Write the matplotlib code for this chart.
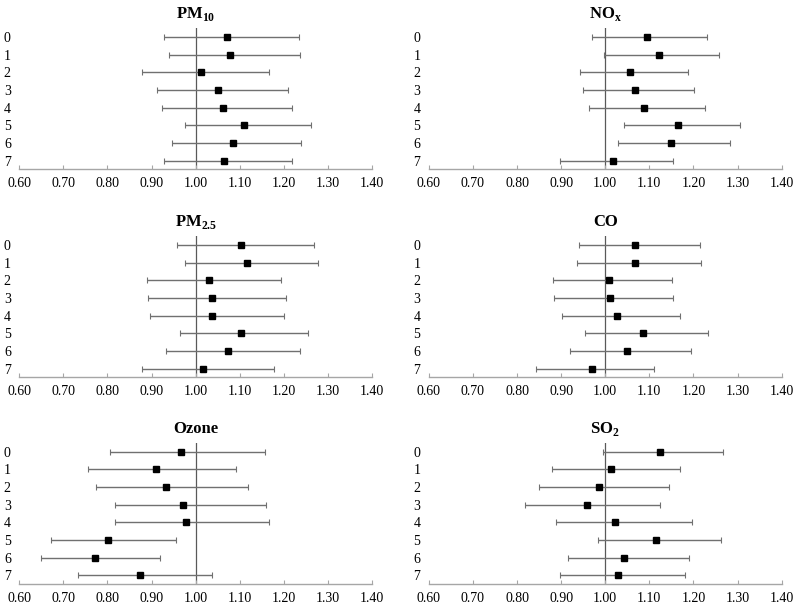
import numpy as np
import matplotlib
matplotlib.use("Agg")
import matplotlib.pyplot as plt

plt.rcParams['font.family'] = ['Liberation Serif', 'DejaVu Serif']
plt.rcParams['mathtext.fontset'] = 'custom'
plt.rcParams['mathtext.rm'] = 'Liberation Serif'
plt.rcParams['mathtext.bf'] = 'Liberation Serif:bold'

# Lag categories (rows)
lags = [0, 1, 2, 3, 4, 5, 6, 7]
xticks = [0.60, 0.70, 0.80, 0.90, 1.00, 1.10, 1.20, 1.30, 1.40]

# Estimates, lower and upper bounds per pollutant
pm10_est = [1.072, 1.078, 1.012, 1.051, 1.061, 1.110, 1.085, 1.064]
pm10_lo = [0.929, 0.940, 0.879, 0.913, 0.924, 0.975, 0.947, 0.929]
pm10_hi = [1.234, 1.237, 1.166, 1.210, 1.218, 1.262, 1.240, 1.218]

nox_est = [1.094, 1.122, 1.057, 1.067, 1.088, 1.166, 1.150, 1.018]
nox_lo = [0.970, 0.998, 0.942, 0.949, 0.964, 1.043, 1.028, 0.898]
nox_hi = [1.231, 1.259, 1.188, 1.201, 1.226, 1.305, 1.284, 1.153]

pm25_est = [1.103, 1.117, 1.030, 1.037, 1.037, 1.102, 1.074, 1.017]
pm25_lo = [0.958, 0.976, 0.889, 0.891, 0.896, 0.965, 0.933, 0.878]
pm25_hi = [1.268, 1.278, 1.194, 1.206, 1.200, 1.256, 1.236, 1.178]

co_est = [1.067, 1.067, 1.008, 1.011, 1.027, 1.086, 1.049, 0.969]
co_lo = [0.940, 0.937, 0.881, 0.884, 0.902, 0.954, 0.921, 0.844]
co_hi = [1.215, 1.217, 1.151, 1.154, 1.169, 1.234, 1.194, 1.110]

o3_est = [0.966, 0.910, 0.932, 0.972, 0.978, 0.801, 0.772, 0.873]
o3_lo = [0.806, 0.756, 0.775, 0.817, 0.817, 0.671, 0.649, 0.734]
o3_hi = [1.157, 1.092, 1.118, 1.159, 1.167, 0.956, 0.920, 1.038]

so2_est = [1.124, 1.013, 0.986, 0.959, 1.022, 1.115, 1.043, 1.029]
so2_lo = [0.995, 0.880, 0.850, 0.819, 0.889, 0.984, 0.915, 0.898]
so2_hi = [1.268, 1.170, 1.144, 1.124, 1.196, 1.262, 1.189, 1.181]

panels = [
    (r'PM$_{\mathbf{10}}$', pm10_est, pm10_lo, pm10_hi),
    (r'NO$_{\mathbf{x}}$', nox_est, nox_lo, nox_hi),
    (r'PM$_{\mathbf{2.5}}$', pm25_est, pm25_lo, pm25_hi),
    ('CO', co_est, co_lo, co_hi),
    ('Ozone', o3_est, o3_lo, o3_hi),
    (r'SO$_{\mathbf{2}}$', so2_est, so2_lo, so2_hi),
]

fig = plt.figure(figsize=(8, 6.1), dpi=100)
lefts = [0.024, 0.536]
bottoms = [0.723, 0.382, 0.043]

for i, (title, est, lo, hi) in enumerate(panels):
    ax = fig.add_axes([lefts[i % 2], bottoms[i // 2], 0.441, 0.231])
    est = np.array(est)
    err = [est - np.array(lo), np.array(hi) - est]
    ax.axvline(1.0, color='#595959', lw=0.9, zorder=1)
    ax.errorbar(est, lags, xerr=err, fmt='s', color='black', ms=5,
                ecolor='#707070', elinewidth=1.0, capsize=2, capthick=0.8,
                zorder=3)
    ax.set_xlim(0.6, 1.4)
    ax.set_ylim(7.47, -0.5)
    ax.set_xticks(xticks)
    ax.set_xticklabels(['%.2f' % t for t in xticks])
    ax.set_yticks(lags)
    ax.set_yticklabels([str(l) for l in lags])
    for s in ['top', 'right', 'left']:
        ax.spines[s].set_visible(False)
    ax.spines['bottom'].set_color('#a6a6a6')
    ax.spines['bottom'].set_linewidth(1.0)
    ax.tick_params(axis='x', direction='in', length=3, color='#a6a6a6',
                   labelsize=10, pad=6)
    ax.tick_params(axis='y', length=0, labelsize=10, pad=6)
    ax.set_title(title, fontsize=12, fontweight='bold', pad=7)

fig.savefig('out.png', dpi=100)
